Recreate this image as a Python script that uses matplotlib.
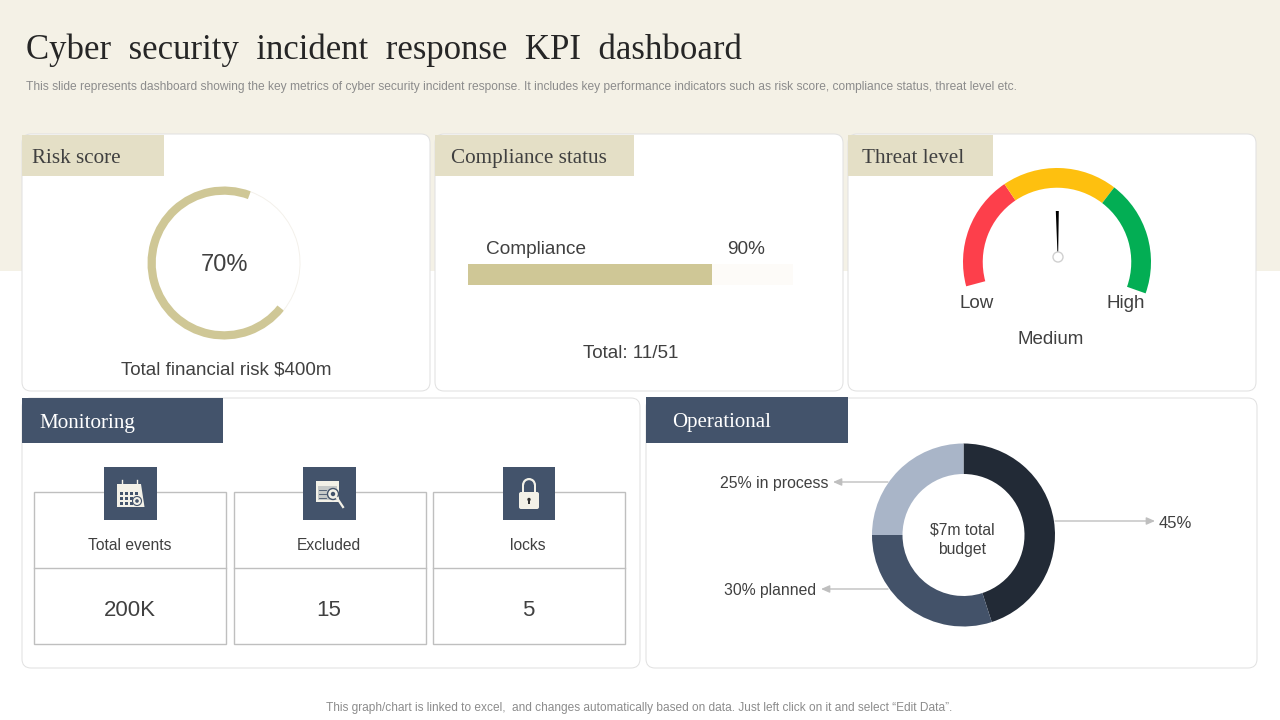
import matplotlib
matplotlib.use('Agg')
import matplotlib.pyplot as plt
from matplotlib.patches import Rectangle, FancyBboxPatch, Circle, Polygon, Wedge

plt.rcParams['font.family'] = ['Liberation Sans', 'DejaVu Sans']

# values
risk_values = [70, 30]
compliance_fill = [75]
compliance_scale = 100
gauge_segments = [71, 71.5, 72, 145.5]
gauge_colors = ['#fd3f4b', '#fec00f', '#03ae54', 'none']
budget_values = [45, 30, 25]
budget_colors = ['#222a36', '#435269', '#a9b5c8']
monitor_names = ['Total events', 'Excluded', 'locks']
monitor_values = ['200K', '15', '5']

TITLE = 'Cyber  security  incident  response  KPI  dashboard'
SUBTITLE = ('This slide represents dashboard showing the key metrics of cyber security incident response. '
            'It includes key performance indicators such as risk score, compliance status, threat level etc.')
FOOTER = 'This graph/chart is linked to excel,  and changes automatically based on data. Just left click on it and select \u201cEdit Data\u201d.'

CREAM = '#f4f1e6'
TAB = '#e4dfc6'
NAVY = '#43536b'
TEXT = '#404040'
GOLD = '#cfc796'
SERIF = 'Liberation Serif'

W, H = 1280, 720
fig = plt.figure(figsize=(12.8, 7.2), dpi=100, facecolor='white')
ax = fig.add_axes([0, 0, 1, 1])
ax.set_xlim(0, W)
ax.set_ylim(H, 0)
ax.axis('off')


def box_axes(x0, y0, x1, y1):
    # axes placed in pixel coordinates, origin top left
    a = fig.add_axes([x0 / W, 1 - y1 / H, (x1 - x0) / W, (y1 - y0) / H])
    a.patch.set_alpha(0)
    return a


def donut(cx, cy, r, values, colors, start, width):
    a = box_axes(cx - r, cy - r, cx + r, cy + r)
    a.pie(values, colors=colors, startangle=start, counterclock=False, radius=1,
          wedgeprops={'width': width, 'linewidth': 0})
    a.set_xlim(-1, 1)
    a.set_ylim(-1, 1)
    return a


def panel(x0, y0, x1, y1):
    ax.add_patch(FancyBboxPatch((x0 + 9, y0 + 9), x1 - x0 - 18, y1 - y0 - 18,
                                boxstyle='round,pad=9,rounding_size=9',
                                fc='white', ec='#e0e0e0', lw=0.7, zorder=2))


def tab(x0, y0, x1, y1, color, label, tx, tc, size):
    ax.add_patch(Rectangle((x0, y0), x1 - x0, y1 - y0, fc=color, ec='none', zorder=3))
    ax.text(tx, (y0 + y1) / 2 + 3, label, family=SERIF, fontsize=size, color=tc,
            va='center', ha='left', zorder=4)


# background band and heading
ax.add_patch(Rectangle((0, 0), W, 271, fc=CREAM, ec='none', zorder=0))
ax.text(26, 50, TITLE, family=SERIF, fontsize=25, color='#262626', va='center', ha='left')
ax.text(26, 87, SUBTITLE, fontsize=8.65, color='#8c8c8c', va='center', ha='left')
ax.text(639, 708, FOOTER, fontsize=8.58, color='#8c8c8c', va='center', ha='center')

panel(22, 134, 430, 391)
panel(435, 134, 843, 391)
panel(848, 134, 1256, 391)
panel(22, 398, 640, 668)
panel(646, 398, 1257, 668)

tab(22, 135, 164, 176, TAB, 'Risk score', 32, '#404040', 15.2)
tab(435, 135, 634, 176, TAB, 'Compliance status', 451, '#404040', 15.2)
tab(848, 135, 993, 176, TAB, 'Threat level', 862, '#404040', 15.2)
tab(22, 398, 223, 443, NAVY, 'Monitoring', 39, 'white', 15.2)
tab(646, 397, 848, 443, NAVY, 'Operational', 672, 'white', 15)

# risk score ring
donut(224, 263, 76.5, risk_values, [GOLD, '#f3f0ea'], -38.5, 0.108)
a = fig.axes[-1]
a.patches[1].set_width(0.012)
ax.text(225, 265, '70%', fontsize=17, color=TEXT, ha='center', va='center')
ax.text(226, 370, 'Total financial risk $400m', fontsize=13.5, color=TEXT, ha='center', va='center')

# compliance bar
bar_ax = box_axes(468, 264, 793, 285)
bar_ax.barh([0], [compliance_scale], height=1, color='#fdfbf8')
bar_ax.barh([0], compliance_fill, height=1, color=GOLD)
bar_ax.set_xlim(0, compliance_scale)
bar_ax.set_ylim(-0.5, 0.5)
bar_ax.axis('off')
ax.text(486, 250, 'Compliance', fontsize=13.7, color=TEXT, ha='left', va='center')
ax.text(746, 250, '90%', fontsize=13.7, color=TEXT, ha='center', va='center')
ax.text(631, 354, 'Total: 11/51', fontsize=13.6, color=TEXT, ha='center', va='center')

# threat gauge
donut(1057, 262, 94, gauge_segments, gauge_colors, 90 + 105, 0.21)
ax.add_patch(Polygon([(1055.8, 211), (1058.8, 211), (1058.2, 252), (1057.4, 252)], fc='black', ec='none', zorder=5))
ax.add_patch(Circle((1058, 257), 5, fc='white', ec='#d0d0d0', lw=1, zorder=5))
ax.text(977, 303.5, 'Low', fontsize=13.5, color=TEXT, ha='center', va='center')
ax.text(1126, 303.5, 'High', fontsize=13.5, color=TEXT, ha='center', va='center')
ax.text(1051, 339.5, 'Medium', fontsize=13.5, color=TEXT, ha='center', va='center')

# monitoring cells
cell_x = [(34, 226), (234, 426), (433, 625)]
icon_x = [(104, 157), (303, 356), (503, 555)]
text_x = [130, 329, 528]
for (x0, x1), (ix0, ix1), mid, name, val in zip(cell_x, icon_x, text_x, monitor_names, monitor_values):
    ax.add_patch(Rectangle((x0, 492), x1 - x0, 152, fc='white', ec='#bfbfbf', lw=1, zorder=3))
    ax.plot([x0, x1], [568, 568], color='#bfbfbf', lw=1, zorder=4)
    ax.add_patch(Rectangle((ix0, 467), ix1 - ix0, 53, fc=NAVY, ec='none', zorder=5))
    ax.text(mid, 546, name, fontsize=11.25, color=TEXT, ha='center', va='center', zorder=6)
    ax.text(mid, 610, val, fontsize=16, color=TEXT, ha='center', va='center', zorder=6)

ICON = '#f3f1e8'
# calendar icon
ax.add_patch(Polygon([(117, 484), (141, 484), (144.5, 507), (117, 507)], fc=ICON, ec='none', zorder=6))
for row in (492, 497, 502):
    for col in (119.5, 124.5, 129.5, 134.5):
        ax.add_patch(Rectangle((col, row), 3.4, 3.2, fc=NAVY, ec='none', zorder=7))
ax.plot([122, 122], [480, 486], color=ICON, lw=1, zorder=7)
ax.plot([137, 137], [480, 486], color=ICON, lw=1, zorder=7)
ax.add_patch(Circle((137, 501), 4.5, fc=ICON, ec=NAVY, lw=0.8, zorder=8))
ax.add_patch(Circle((137, 501), 1.8, fc=NAVY, ec='none', zorder=9))

# report with magnifier icon
ax.add_patch(Rectangle((316, 481), 23, 21, fc=ICON, ec='none', zorder=6))
ax.add_patch(Rectangle((318, 486), 19, 14, fc=NAVY, ec='none', alpha=0.25, zorder=7))
for row in (490, 494, 498):
    ax.plot([319, 326], [row, row], color=NAVY, lw=0.6, zorder=8)
ax.add_patch(Circle((333, 494), 5.5, fc=ICON, ec=NAVY, lw=1, zorder=8))
ax.add_patch(Circle((333, 494), 2.2, fc=NAVY, ec='none', zorder=9))
ax.plot([337, 343], [498, 507], color=ICON, lw=1.6, zorder=8)

# padlock icon
ax.add_patch(Wedge((529, 485), 7, 180, 360, width=2.2, fc=ICON, ec='none', zorder=6))
ax.add_patch(Rectangle((522, 485), 2.2, 8, fc=ICON, ec='none', zorder=6))
ax.add_patch(Rectangle((533.8, 485), 2.2, 8, fc=ICON, ec='none', zorder=6))
ax.add_patch(FancyBboxPatch((520, 493), 18, 15, boxstyle='round,pad=1,rounding_size=2', fc=ICON, ec='none', zorder=6))
ax.add_patch(Circle((529, 499.5), 1.7, fc='#333333', ec='none', zorder=7))
ax.add_patch(Rectangle((528.3, 500), 1.4, 4, fc='#333333', ec='none', zorder=7))

# budget donut
donut(963.5, 535, 91.5, budget_values, budget_colors, 90, 1 / 3)
ax.text(962, 540, '$7m total\nbudget', fontsize=11.3, color=TEXT, ha='center', va='center', linespacing=1.35)


def arrow(x_from, x_to, y):
    ax.annotate('', xy=(x_to, y), xytext=(x_from, y),
                arrowprops={'arrowstyle': '-|>,head_length=0.5,head_width=0.22', 'color': '#bfbfbf',
                            'lw': 1, 'shrinkA': 0, 'shrinkB': 0}, zorder=3)


arrow(1055, 1155, 521)
arrow(888, 833, 482)
arrow(888, 821, 589)
ax.text(1175, 523.5, '45%', fontsize=12, color=TEXT, ha='center', va='center')
ax.text(828, 483.5, '25% in process', fontsize=11.45, color=TEXT, ha='right', va='center')
ax.text(816, 590.5, '30% planned', fontsize=11.3, color=TEXT, ha='right', va='center')

fig.savefig('out.png', dpi=100)
